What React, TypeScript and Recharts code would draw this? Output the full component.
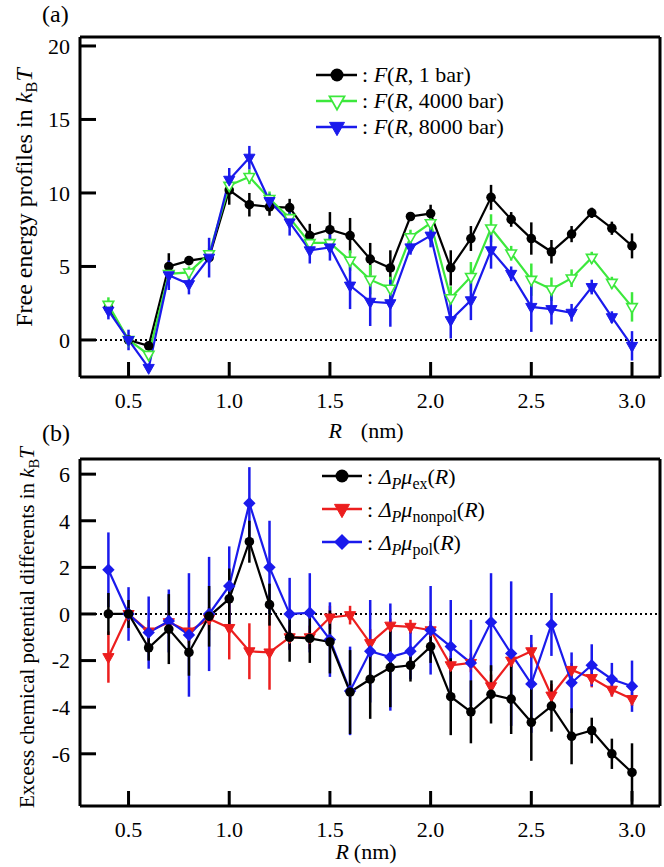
import React from 'react';
import { ComposedChart, Line, XAxis, YAxis, ErrorBar, ReferenceLine, Legend, Label } from 'recharts';

// ---------- data ----------
const R_NM = [0.4, 0.5, 0.6, 0.7, 0.8, 0.9, 1.0, 1.1, 1.2, 1.3, 1.4, 1.5, 1.6, 1.7, 1.8, 1.9, 2.0, 2.1, 2.2, 2.3, 2.4, 2.5, 2.6, 2.7, 2.8, 2.9, 3.0];

// panel (a): free energy profiles
const F_1BAR = [2.2, 0, -0.4, 5.0, 5.4, 5.6, 10.2, 9.2, 9.05, 9.0, 7.1, 7.5, 7.1, 5.5, 4.9, 8.4, 8.6, 4.9, 6.9, 9.7, 8.2, 6.9, 6.0, 7.2, 8.65, 7.6, 6.4];
const F_1BAR_ERR = [0.4, 0.3, 0.2, 0.9, 0.3, 0.3, 1.0, 0.8, 0.6, 0.6, 0.8, 1.2, 1.2, 1.1, 1.2, 0.3, 0.6, 1.2, 0.85, 0.85, 0.5, 1.1, 0.8, 0.55, 0.35, 0.45, 0.85];
const F_4000BAR = [2.4, 0, -1.0, 4.5, 4.6, 5.85, 10.5, 11.1, 9.6, 8.3, 6.6, 6.6, 5.4, 4.1, 3.5, 7.0, 7.95, 2.85, 4.3, 7.6, 5.9, 4.1, 3.45, 4.2, 5.6, 3.9, 2.25];
const F_4000BAR_ERR = [0.5, 0.2, 0.3, 0.4, 0.4, 0.4, 0.5, 0.5, 0.5, 0.5, 0.4, 0.4, 0.7, 1.0, 0.8, 0.5, 0.6, 0.8, 1.0, 0.95, 0.5, 1.1, 0.8, 0.6, 0.4, 0.4, 1.0];
const F_8000BAR = [2.0, 0, -1.9, 4.4, 3.8, 5.6, 10.9, 12.4, 9.45, 8.0, 6.1, 6.3, 3.7, 2.6, 2.5, 6.3, 7.1, 1.35, 2.7, 6.1, 4.5, 2.25, 2.1, 1.85, 3.6, 1.55, -0.4];
const F_8000BAR_ERR = [0.6, 0.7, 0.3, 1.0, 0.7, 1.35, 0.8, 0.8, 0.5, 0.9, 0.9, 0.9, 1.6, 1.65, 1.6, 0.5, 0.8, 1.25, 1.35, 1.25, 0.5, 1.7, 1.05, 0.6, 0.5, 0.4, 1.0];

// panel (b): excess chemical potential differences
const MU_EX = [0, 0, -1.45, -0.65, -1.65, -0.1, 0.65, 3.1, 0.4, -1.0, -1.05, -1.2, -3.35, -2.8, -2.3, -2.2, -1.4, -3.55, -4.2, -3.45, -3.65, -4.65, -3.95, -5.25, -5.0, -6.0, -6.8];
const MU_EX_ERR = [0.9, 0.6, 0.55, 1.5, 1.0, 1.3, 1.3, 0.9, 0.9, 1.05, 1.05, 1.35, 1.8, 1.7, 1.7, 0.7, 0.7, 1.65, 1.35, 1.25, 1.5, 1.65, 1.1, 1.2, 0.55, 0.65, 1.25];
const MU_NONPOL = [-1.85, 0, -0.75, -0.35, -0.75, -0.2, -0.6, -1.6, -1.65, -1.0, -1.0, -0.15, -0.05, -1.25, -0.5, -0.55, -0.7, -2.2, -2.1, -3.1, -2.0, -1.6, -3.5, -2.4, -2.75, -3.25, -3.65];
const MU_NONPOL_ERR = [1.1, 0.3, 0.5, 0.5, 0.5, 0.5, 1.35, 1.2, 1.6, 0.5, 0.5, 0.5, 0.4, 0.6, 0.3, 0.3, 0.4, 0.4, 0.4, 0.5, 0.3, 0.3, 0.5, 0.3, 0.4, 0.3, 0.3];
const MU_POL = [1.9, 0, -0.8, -0.3, -0.9, 0, 1.2, 4.75, 2.0, 0, 0.05, -1.1, -3.3, -1.6, -1.85, -1.6, -0.7, -1.4, -2.1, -0.35, -1.7, -3.0, -0.45, -2.95, -2.2, -2.8, -3.1];
const MU_POL_ERR = [1.6, 1.15, 1.55, 1.35, 2.65, 2.45, 1.7, 1.55, 2.0, 1.55, 1.7, 1.6, 1.9, 2.2, 2.3, 1.2, 1.9, 2.0, 1.85, 2.1, 3.1, 2.1, 1.35, 1.3, 0.9, 0.7, 1.1];

// axes
const X_TICKS = [0.5, 1.0, 1.5, 2.0, 2.5, 3.0];
const X_DOMAIN = [0.259, 3.139];
const YA_TICKS = [0, 5, 10, 15, 20];
const YA_DOMAIN = [-2.52, 20.61];
const YB_TICKS = [-6, -4, -2, 0, 2, 4, 6];
const YB_DOMAIN = [-8.24, 6.65];

const dataA = R_NM.map((r, i) => ({
  r,
  f1: F_1BAR[i], f1e: F_1BAR_ERR[i],
  f4: F_4000BAR[i], f4e: F_4000BAR_ERR[i],
  f8: F_8000BAR[i], f8e: F_8000BAR_ERR[i],
}));
const dataB = R_NM.map((r, i) => ({
  r,
  ex: MU_EX[i], exe: MU_EX_ERR[i],
  np: MU_NONPOL[i], npe: MU_NONPOL_ERR[i],
  pl: MU_POL[i], ple: MU_POL_ERR[i],
}));

// ---------- styles ----------
const FONT = '"Liberation Serif", "Times New Roman", serif';
const BLACK = '#000000';
const GREEN = '#3ce83c';
const BLUE = '#1a1aec';
const RED = '#ec1e1e';
const tickStyle = { fill: '#000', fontSize: 22, fontFamily: FONT };
const axisLineStyle = { stroke: '#000', strokeWidth: 3 };
const fmtX = (v: number) => v.toFixed(1);

// ---------- markers ----------
const circleShape = (cx: number, cy: number, r: number, color: string, key?: string) => (
  <circle key={key} cx={cx} cy={cy} r={r} fill={color} stroke="none" />
);
const triDownShape = (cx: number, cy: number, s: number, fill: string, stroke: string, sw: number, key?: string) => (
  <path
    key={key}
    d={`M${cx - s},${cy - s * 0.62} L${cx + s},${cy - s * 0.62} L${cx},${cy + s * 1.15} Z`}
    fill={fill}
    stroke={stroke}
    strokeWidth={sw}
    strokeLinejoin="miter"
  />
);
const diamondShape = (cx: number, cy: number, s: number, color: string, key?: string) => (
  <path key={key} d={`M${cx},${cy - s} L${cx + s},${cy} L${cx},${cy + s} L${cx - s},${cy} Z`} fill={color} />
);

const dotCircle = (color: string) => (p: any) =>
  p.cx == null ? <g key={`n${p.index}`} /> : circleShape(p.cx, p.cy, 4.8, color, `c${p.index}`);
const dotTriFilled = (color: string) => (p: any) =>
  p.cx == null ? <g key={`n${p.index}`} /> : triDownShape(p.cx, p.cy, 5.6, color, color, 1, `t${p.index}`);
const dotTriOpen = (color: string) => (p: any) =>
  p.cx == null ? <g key={`n${p.index}`} /> : triDownShape(p.cx, p.cy, 5.3, '#fff', color, 1.6, `o${p.index}`);
const dotDiamond = (color: string) => (p: any) =>
  p.cx == null ? <g key={`n${p.index}`} /> : diamondShape(p.cx, p.cy, 6.2, color, `d${p.index}`);

// ---------- labels ----------
const sub = (t: string, italic = false) => (
  <span style={{ fontSize: 16, position: 'relative', top: 5, fontStyle: italic ? 'italic' : 'normal' }}>{t}</span>
);

const LegendA = () => {
  const rows = [
    { m: circleShape(21, 13, 6.5, BLACK), c: BLACK, t: <><i>F</i>(<i>R</i>, 1 bar)</> },
    { m: triDownShape(21, 13, 7.5, '#fff', GREEN, 1.8), c: GREEN, t: <><i>F</i>(<i>R</i>, 4000 bar)</> },
    { m: triDownShape(21, 13, 7.5, BLUE, BLUE, 1), c: BLUE, t: <><i>F</i>(<i>R</i>, 8000 bar)</> },
  ];
  return (
    <div style={{ fontFamily: FONT, fontSize: 22, color: '#000' }}>
      {rows.map((row, i) => (
        <div key={i} style={{ display: 'flex', alignItems: 'center', height: 26, whiteSpace: 'nowrap' }}>
          <svg width={46} height={26} style={{ display: 'block' }}>
            <line x1={0} y1={13} x2={41} y2={13} stroke={row.c} strokeWidth={2.5} />
            {row.m}
          </svg>
          <span>: {row.t}</span>
        </div>
      ))}
    </div>
  );
};

const LegendB = () => {
  const rows = [
    { m: circleShape(20, 16, 6.5, BLACK), c: BLACK, s: 'ex' },
    { m: triDownShape(20, 16, 7.5, RED, RED, 1), c: RED, s: 'nonpol' },
    { m: diamondShape(20, 16, 8, BLUE), c: BLUE, s: 'pol' },
  ];
  return (
    <div style={{ fontFamily: FONT, fontSize: 22, color: '#000' }}>
      {rows.map((row, i) => (
        <div key={i} style={{ display: 'flex', alignItems: 'center', height: 33, whiteSpace: 'nowrap' }}>
          <svg width={45} height={33} style={{ display: 'block' }}>
            <line x1={0} y1={16} x2={40} y2={16} stroke={row.c} strokeWidth={2.5} />
            {row.m}
          </svg>
          <span>
            : <i>Δ</i>{sub('P', true)}<i>μ</i>{sub(row.s)}(<i>R</i>)
          </span>
        </div>
      ))}
    </div>
  );
};

const XTitle = (gap: number, dyBase: number) => (props: any) => {
  const vb = props.viewBox;
  const cx = vb.x + vb.width / 2 - 4;
  return (
    <text x={cx} y={vb.y + dyBase} textAnchor="middle" fontFamily={FONT} fontSize={22} fill="#000">
      <tspan fontStyle="italic">R</tspan>
      <tspan dx={gap}>(nm)</tspan>
    </text>
  );
};

const YTitle = (text: string, xBase: number, dyCenter: number, fs: number) => (props: any) => {
  const vb = props.viewBox;
  const cy = vb.y + vb.height / 2 + dyCenter;
  return (
    <text
      x={xBase}
      y={cy}
      transform={`rotate(-90, ${xBase}, ${cy})`}
      textAnchor="middle"
      fontFamily={FONT}
      fontSize={fs}
      fill="#000"
    >
      <tspan>{text}</tspan>
      <tspan fontStyle="italic">k</tspan>
      <tspan fontSize={fs * 0.7} dy={5}>B</tspan>
      <tspan fontStyle="italic" dy={-5}>T</tspan>
    </text>
  );
};

const axesCommon = (xDomain: number[], yDomain: number[], yTicks: number[], xTitle: any, yTitle: any) => [
  <XAxis
    key="xb"
    xAxisId="b"
    dataKey="r"
    type="number"
    domain={xDomain}
    ticks={X_TICKS}
    allowDataOverflow
    interval={0}
    tickFormatter={fmtX}
    tick={tickStyle}
    tickSize={-15}
    tickMargin={30}
    axisLine={axisLineStyle}
    tickLine={axisLineStyle}
    height={40}
  >
    <Label content={xTitle} />
  </XAxis>,
  <XAxis
    key="xt"
    xAxisId="t"
    orientation="top"
    dataKey="r"
    type="number"
    domain={xDomain}
    ticks={X_TICKS}
    allowDataOverflow
    interval={0}
    tick={false}
    tickSize={-15}
    axisLine={axisLineStyle}
    tickLine={axisLineStyle}
    height={1}
  />,
  <YAxis
    key="yl"
    yAxisId="l"
    type="number"
    domain={yDomain}
    ticks={yTicks}
    allowDataOverflow
    interval={0}
    tick={tickStyle}
    tickSize={-16}
    tickMargin={26}
    axisLine={axisLineStyle}
    tickLine={axisLineStyle}
    width={60}
  >
    <Label content={yTitle} />
  </YAxis>,
  <YAxis
    key="yr"
    yAxisId="r"
    orientation="right"
    type="number"
    domain={yDomain}
    ticks={yTicks}
    allowDataOverflow
    interval={0}
    tick={false}
    tickSize={-15}
    axisLine={axisLineStyle}
    tickLine={axisLineStyle}
    width={1}
  />,
];

export default function App() {
  return (
    <div style={{ position: 'absolute', left: 0, top: 0, width: 664, height: 867, background: '#fff', fontFamily: FONT }}>
      <div style={{ position: 'absolute', left: 42, top: 2, fontSize: 24, lineHeight: '24px', fontFamily: FONT }}>(a)</div>
      <div style={{ position: 'absolute', left: 42, top: 421, fontSize: 24, lineHeight: '24px', fontFamily: FONT }}>(b)</div>

      <div style={{ position: 'absolute', left: 0, top: 0 }}>
        <ComposedChart width={664} height={444} data={dataA} margin={{ top: 36, right: 3, left: 20, bottom: 27 }}>
          {axesCommon(X_DOMAIN, YA_DOMAIN, YA_TICKS, XTitle(19, 61), YTitle('Free energy profiles in ', 32, -9.5, 24))}
          <ReferenceLine xAxisId="b" yAxisId="l" y={0} stroke="#000" strokeWidth={2} strokeDasharray="2 3" />
          <Line xAxisId="b" yAxisId="l" dataKey="f1" stroke={BLACK} strokeWidth={2.2} dot={dotCircle(BLACK)} activeDot={false} isAnimationActive={false}>
            <ErrorBar dataKey="f1e" width={0} stroke={BLACK} strokeWidth={2.5} direction="y" />
          </Line>
          <Line xAxisId="b" yAxisId="l" dataKey="f4" stroke={GREEN} strokeWidth={2.2} dot={dotTriOpen(GREEN)} activeDot={false} isAnimationActive={false}>
            <ErrorBar dataKey="f4e" width={0} stroke={GREEN} strokeWidth={2.5} direction="y" />
          </Line>
          <Line xAxisId="b" yAxisId="l" dataKey="f8" stroke={BLUE} strokeWidth={2.2} dot={dotTriFilled(BLUE)} activeDot={false} isAnimationActive={false}>
            <ErrorBar dataKey="f8e" width={0} stroke={BLUE} strokeWidth={2.5} direction="y" />
          </Line>
          <Legend
            layout="vertical"
            align="center"
            verticalAlign="middle"
            content={() => <LegendA />}
            wrapperStyle={{ left: 316, top: 62, width: 'auto', height: 'auto' }}
          />
        </ComposedChart>
      </div>

      <div style={{ position: 'absolute', left: 0, top: 444 }}>
        <ComposedChart width={664} height={423} data={dataB} margin={{ top: 14, right: 3, left: 20, bottom: 21 }}>
          {axesCommon(X_DOMAIN, YB_DOMAIN, YB_TICKS, XTitle(5, 53), YTitle('Excess chemical potential differents in ', 34, -5, 21))}
          <ReferenceLine xAxisId="b" yAxisId="l" y={0} stroke="#000" strokeWidth={2} strokeDasharray="2 3" />
          <Line xAxisId="b" yAxisId="l" dataKey="np" stroke={RED} strokeWidth={2.2} dot={dotTriFilled(RED)} activeDot={false} isAnimationActive={false}>
            <ErrorBar dataKey="npe" width={0} stroke={RED} strokeWidth={2.5} direction="y" />
          </Line>
          <Line xAxisId="b" yAxisId="l" dataKey="pl" stroke={BLUE} strokeWidth={2.2} dot={dotDiamond(BLUE)} activeDot={false} isAnimationActive={false}>
            <ErrorBar dataKey="ple" width={0} stroke={BLUE} strokeWidth={2.5} direction="y" />
          </Line>
          <Line xAxisId="b" yAxisId="l" dataKey="ex" stroke={BLACK} strokeWidth={2.2} dot={dotCircle(BLACK)} activeDot={false} isAnimationActive={false}>
            <ErrorBar dataKey="exe" width={0} stroke={BLACK} strokeWidth={2.5} direction="y" />
          </Line>
          <Legend
            layout="vertical"
            align="center"
            verticalAlign="middle"
            content={() => <LegendB />}
            wrapperStyle={{ left: 322, top: 16, width: 'auto', height: 'auto' }}
          />
        </ComposedChart>
      </div>
    </div>
  );
}
